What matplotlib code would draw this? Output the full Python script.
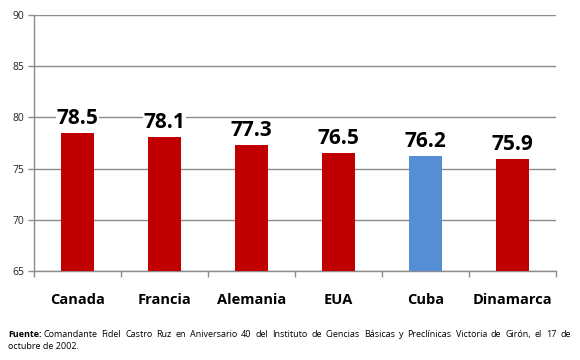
import matplotlib
matplotlib.use("Agg")
import matplotlib.pyplot as plt
import numpy as np

categories = ["Canada", "Francia", "Alemania", "EUA", "Cuba", "Dinamarca"]
values = [78.5, 78.1, 77.3, 76.5, 76.2, 75.9]
highlight = "Cuba"
yticks = [65, 70, 75, 80, 85, 90]
source_label = "Fuente:"
source_line1 = "Comandante Fidel Castro Ruz en Aniversario 40 del Instituto de Ciencias Básicas y Preclínicas Victoria de Girón, el 17 de"
source_line2 = "octubre de 2002."

RED = "#C00000"
BLUE = "#558ED5"
GRID = "#8C8C8C"

plt.rcParams['font.family'] = ['Open Sans', 'DejaVu Sans']

W, H = 580, 360
fig = plt.figure(figsize=(5.8, 3.6), dpi=100)
ax = fig.add_axes([34/W, 1-271/H, (556-34)/W, (271-15)/H])

x = np.arange(len(categories))
colors = [BLUE if c == highlight else RED for c in categories]
ax.bar(x, values, width=0.39, bottom=0, color=colors, zorder=3)

ax.set_ylim(65, 90)
ax.set_xlim(-0.5, len(categories) - 0.5)
ax.set_yticks(yticks)
ax.set_yticklabels([str(v) for v in yticks], fontsize=7.5, color="#222222")
ax.yaxis.grid(True, color=GRID, linewidth=1, zorder=0)
ax.set_axisbelow(True)

for s in ["top", "right"]:
    ax.spines[s].set_visible(False)
for s in ["left", "bottom"]:
    ax.spines[s].set_color(GRID)
    ax.spines[s].set_linewidth(1)

ax.tick_params(axis='y', length=4, color=GRID, width=1, pad=3)
ax.set_xticks(np.arange(-0.5, len(categories), 1.0))
ax.set_xticklabels([])
ax.tick_params(axis='x', length=4, color=GRID, width=1)
ax.set_xticks(x, minor=True)
ax.set_xticklabels(categories, minor=True, fontsize=10.5, fontweight='bold')
ax.tick_params(axis='x', which='minor', length=0, pad=16)

for xi, v in zip(x, values):
    ax.text(xi, v + 0.9, f"{v}", ha='center', va='baseline', fontsize=15,
            fontweight='bold', color='black', zorder=4,
            bbox=dict(facecolor='white', edgecolor='none', pad=0.5))

# footnote (justified first line)
fs = 6.5
fig.canvas.draw()
r = fig.canvas.get_renderer()
y1 = 1 - 337/H
y2 = 1 - 349/H
tl = fig.text(8/W, y1, source_label, fontsize=fs, fontweight='bold', va='baseline')
bb = tl.get_window_extent(r)
start = bb.x1 + 2
end = 571
words = source_line1.split()
widths = []
for w in words:
    t = fig.text(0, 0, w, fontsize=fs)
    widths.append(t.get_window_extent(r).width)
    t.remove()
gap = (end - start - sum(widths)) / (len(words) - 1)
cx = start
for w, wd in zip(words, widths):
    fig.text(cx / W, y1, w, fontsize=fs, va='baseline')
    cx += wd + gap
fig.text(8/W, y2, source_line2, fontsize=fs, va='baseline')

fig.savefig("out.png", dpi=100)
